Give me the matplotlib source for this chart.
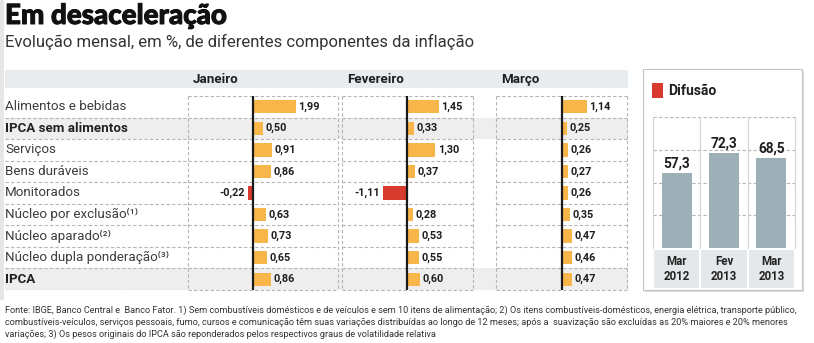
import matplotlib
matplotlib.use("Agg")
import matplotlib.pyplot as plt
from matplotlib.patches import Rectangle
import matplotlib.transforms as mtrans
import matplotlib.patheffects as pe

# ---------------- data ----------------
title = "Em desaceleração"
subtitle = "Evolução mensal, em %, de diferentes componentes da inflação"
categories = ["Alimentos e bebidas", "IPCA sem alimentos", "Serviços", "Bens duráveis",
              "Monitorados", "Núcleo por exclusão⁽¹⁾", "Núcleo aparado⁽²⁾",
              "Núcleo dupla ponderação⁽³⁾", "IPCA"]
bold_rows = ["IPCA sem alimentos", "IPCA"]
months = ["Janeiro", "Fevereiro", "Março"]
jan = [1.99, 0.50, 0.91, 0.86, -0.22, 0.63, 0.73, 0.65, 0.86]
fev = [1.45, 0.33, 1.30, 0.37, -1.11, 0.28, 0.53, 0.55, 0.60]
mar = [1.14, 0.25, 0.26, 0.27, 0.26, 0.35, 0.47, 0.46, 0.47]
difusao_title = "Difusão"
difusao_labels = ["Mar\n2012", "Fev\n2013", "Mar\n2013"]
difusao_values = [57.3, 72.3, 68.5]
footer = [
    "Fonte: IBGE, Banco Central e  Banco Fator. 1) Sem combustíveis domésticos e de veículos e sem 10 itens de alimentação; 2) Os itens combustíveis-domésticos, energia elétrica, transporte público,",
    "combustíveis-veículos, serviços pessoais, fumo, cursos e comunicação têm suas variações distribuídas ao longo de 12 meses; após a  suavização são excluídas as 20% maiores e 20% menores",
    "variações; 3) Os pesos originais do IPCA são reponderados pelos respectivos graus de volatilidade relativa",
]

# ---------------- fonts ----------------
FAM = ["Roboto", "DejaVu Sans"]
TITLEFAM = ["Lato", "DejaVu Sans"]

ORANGE = "#F8B64A"
RED = "#D83A2E"
GREY_BAR = "#9DB0B8"
DASH = "#b5b5b5"

W, H = 814, 343
fig = plt.figure(figsize=(W / 100, H / 100), dpi=100)
fig.patch.set_facecolor("white")


def px_axes(x0, y0, x1, y1, z=1):
    return fig.add_axes([x0 / W, 1 - y1 / H, (x1 - x0) / W, (y1 - y0) / H], zorder=z)


bg = px_axes(0, 0, W, H, z=0)
bg.set_xlim(0, W)
bg.set_ylim(H, 0)
bg.axis("off")

# left strip
bg.add_patch(Rectangle((0, 0), 4, 300, color="#e6e6e6", lw=0))

# titles
bg.text(5, 24, title, fontsize=20, fontweight="black", family=TITLEFAM, color="#111111",
        va="baseline", path_effects=[pe.withStroke(linewidth=0.7, foreground="#111111")])
bg.text(5, 47, subtitle, fontsize=12.0, family=FAM, color="#333333", va="baseline")

# header band
bg.add_patch(Rectangle((5, 70), 623, 18, color="#e8ecee", lw=0))

# ---------------- table ----------------
TOP, BOT = 96, 290
n = len(categories)
tab = px_axes(5, TOP, 628, BOT, z=1)
tab.set_xlim(0, 623)
tab.set_ylim(n - 0.5, -0.5)
tab.axis("off")
for i, c in enumerate(categories):
    if c in bold_rows:
        tab.axhspan(i - 0.5, i + 0.5, color="#eeeeee", lw=0)
    tab.text(0, i, c, family=FAM, fontsize=9.6, va="center", ha="left",
             color="#222222" if c in bold_rows else "#3c3c3c",
             fontweight="bold" if c in bold_rows else "normal")
    tab.plot([0, 183], [i + 0.5, i + 0.5], color=DASH, lw=0.8, ls=(0, (3, 2)))

panels = [(188, 338, 252.5), (342, 473, 407), (496, 627, 562)]
SCALE = 21.8  # px per unit
for (x0, x1, z0), mname, vals in zip(panels, months, [jan, fev, mar]):
    bg.text(x0 + 5, 79.5, mname, family=FAM, fontsize=9.6, fontweight="bold",
            color="#1e1e1e", va="center")
    ax = px_axes(x0, TOP, x1, BOT, z=2)
    ax.patch.set_alpha(0)
    lo, hi = (x0 - z0) / SCALE, (x1 - z0) / SCALE
    ax.set_xlim(lo, hi)
    ax.set_ylim(n - 0.5, -0.5)
    ax.axis("off")
    for k in range(n + 1):
        ax.plot([lo, hi], [k - 0.5, k - 0.5], color=DASH, lw=0.8, ls=(0, (3, 2)), clip_on=False)
    ax.plot([lo, lo], [-0.5, n - 0.5], color=DASH, lw=0.8, ls=(0, (3, 2)), clip_on=False)
    ax.plot([hi, hi], [-0.5, n - 0.5], color=DASH, lw=0.8, ls=(0, (3, 2)), clip_on=False)
    ax.barh(range(n), vals, height=0.62, color=[ORANGE if v >= 0 else RED for v in vals], lw=0)
    ax.axvline(0, color="#1a1a1a", lw=1.6)
    pad = 2.5 / SCALE
    for i, v in enumerate(vals):
        s = f"{v:.2f}".replace(".", ",")
        if v >= 0:
            ax.text(v + pad, i, s, ha="left", va="center", family=FAM, fontsize=7.8,
                    fontweight="bold", color="#1e1e1e")
        else:
            ax.text(v - pad, i, s, ha="right", va="center", family=FAM, fontsize=7.8,
                    fontweight="bold", color="#1e1e1e")

# ---------------- difusão box ----------------
bg.add_patch(Rectangle((645, 71), 159, 221, color="#dcdcdc", lw=0))
bg.add_patch(Rectangle((643, 69), 159, 221, facecolor="white", edgecolor="#c4c4c4", lw=0.8))
bg.add_patch(Rectangle((652, 83), 11, 15, color=RED, lw=0))
bg.text(668, 91, difusao_title, family=FAM, fontsize=10, fontweight="bold", color="#1e1e1e", va="center")

dx = px_axes(653, 117, 795, 248, z=2)
dx.patch.set_alpha(0)
dx.set_xlim(-0.5, 2.5)
dx.set_ylim(0, 100)
dx.axis("off")
for g in [25, 50, 75, 100]:
    dx.plot([-0.5, 2.5], [g, g], color=DASH, lw=0.8, ls=(0, (3, 2)), zorder=0)
for xv in [-0.5, 0.5, 1.5, 2.5]:
    dx.plot([xv, xv], [0, 100], color="#d2d2d2", lw=0.8, zorder=0, clip_on=False)
dx.bar(range(3), difusao_values, width=0.64, color=GREY_BAR, lw=0, zorder=2)
blend = mtrans.blended_transform_factory(dx.transData, dx.transAxes)
for i, (lab, v) in enumerate(zip(difusao_labels, difusao_values)):
    dx.text(i, v + 2, f"{v:.1f}".replace(".", ","), ha="center", va="bottom", family=FAM,
            fontsize=9.8, fontweight="bold", color="#1e1e1e")
    dx.add_patch(Rectangle((i - 0.48, -0.305), 0.96, 0.29, transform=blend, color="#e4e8ea",
                           lw=0, clip_on=False))
    dx.text(i, -0.16, lab, transform=blend, ha="center", va="center", family=FAM,
            fontsize=8.3, fontweight="bold", color="#222222", linespacing=1.2)

# ---------------- footer ----------------
for j, line in enumerate(footer):
    bg.text(5, 310 + 12 * j, line, family=FAM, fontsize=6.6, color="#333333", va="center")

fig.savefig("out.png", dpi=100, facecolor="white")
